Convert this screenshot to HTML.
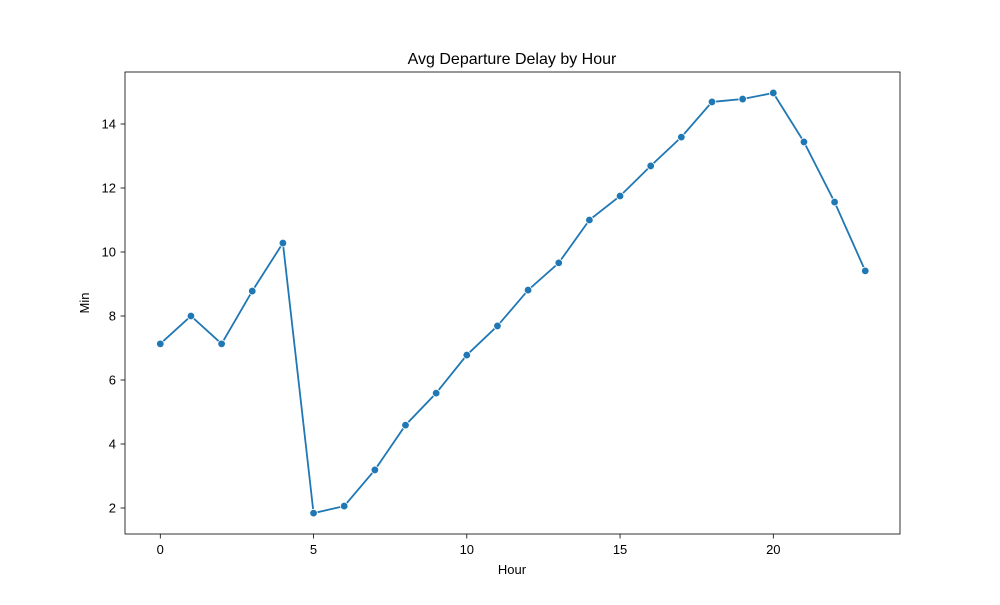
<!DOCTYPE html>
<html><head><meta charset="utf-8"><style>
body{margin:0;background:#fff;}
svg text{font-family:"Liberation Sans","DejaVu Sans",sans-serif;fill:#000;}
</style></head><body>
<svg id="chart" width="1000" height="600" xmlns="http://www.w3.org/2000/svg">
<rect width="1000" height="600" fill="#fff"/>
<text x="512" y="64" font-size="16" text-anchor="middle">Avg Departure Delay by Hour</text>
<text x="512" y="574" font-size="13" text-anchor="middle">Hour</text>
<text x="89" y="303" font-size="13" text-anchor="middle" transform="rotate(-90 89 303)">Min</text>
<g id="ticks"></g>
<g id="series"></g>
<rect x="125" y="72" width="775" height="462" fill="none" stroke="#000" stroke-width="0.8"/>
</svg>
<script>
const hours=[0,1,2,3,4,5,6,7,8,9,10,11,12,13,14,15,16,17,18,19,20,21,22,23];
const delays=[7.13,8.0,7.13,8.78,10.28,1.84,2.06,3.19,4.59,5.59,6.78,7.69,8.81,9.66,11.0,11.75,12.69,13.59,14.69,14.78,14.97,13.44,11.56,9.41];
const xTicks=[0,5,10,15,20];
const yTicks=[2,4,6,8,10,12,14];
const NS="http://www.w3.org/2000/svg";
const xs=v=>160.3+v*30.65;
const ys=v=>508-(v-2)*32;
function mk(tag,attrs,parent){const e=document.createElementNS(NS,tag);for(const k in attrs)e.setAttribute(k,attrs[k]);parent.appendChild(e);return e;}
const tg=document.getElementById('ticks');
xTicks.forEach(t=>{
 const l=mk('line',{x1:xs(t),x2:xs(t),y1:534,y2:538.5,stroke:'#000','stroke-width':0.8},tg);
 
 
 const tx=mk('text',{x:xs(t),y:554,'font-size':13,'text-anchor':'middle'},tg);tx.textContent=t;
 
 
});
yTicks.forEach(t=>{
 const l=mk('line',{x1:120.5,x2:125,y1:ys(t),y2:ys(t),stroke:'#000','stroke-width':0.8},tg);
 
 
 const tx=mk('text',{x:116,y:ys(t)+4.5,'font-size':13,'text-anchor':'end'},tg);tx.textContent=t;
 
 
});
const sg=document.getElementById('series');
const pts=hours.map((h,i)=>xs(h)+','+ys(delays[i])).join(' ');
const pl=mk('polyline',{points:pts,fill:'none',stroke:'#1f77b4','stroke-width':1.8},sg);


hours.forEach((h,i)=>{
 const c=mk('circle',{cx:xs(h),cy:ys(delays[i]),r:3.8,fill:'#1f77b4',stroke:'#fff','stroke-width':0.8},sg);
 
 
});
</script>
</body></html>
